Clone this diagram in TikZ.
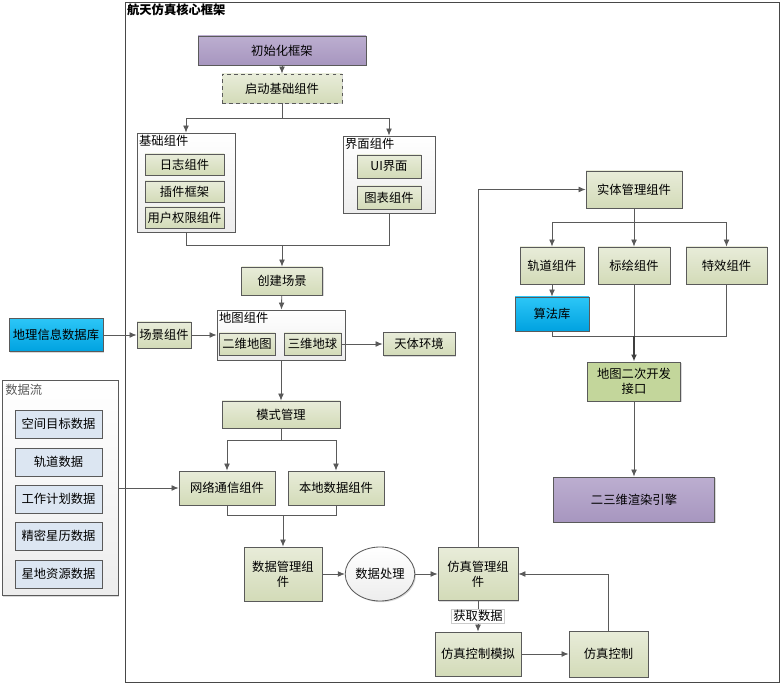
\documentclass[tikz,border=0pt]{standalone}
\usepackage{fontspec}
\setmainfont{Noto Sans CJK SC}
\usetikzlibrary{arrows.meta,shadows,shapes.geometric}

\definecolor{edge}{HTML}{5A5A5A}
\definecolor{gtop}{HTML}{E8ECD9}
\definecolor{gbot}{HTML}{D3DBB8}
\definecolor{ptop}{HTML}{BCAED0}
\definecolor{pbot}{HTML}{A796BF}
\definecolor{btop}{HTML}{2CC6F7}
\definecolor{bbot}{HTML}{00A2E0}
\definecolor{dgreen}{HTML}{C3D69B}
\definecolor{lblue}{HTML}{DCE6F2}
\definecolor{grpbot}{HTML}{EDEDED}

\tikzset{
	sz/.style 2 args={minimum width=#1*0.03cm, minimum height=#2*0.03cm},
	box/.style={draw=edge, line width=0.7pt, inner sep=1pt, align=center,
		drop shadow={shadow xshift=1pt, shadow yshift=-1pt, opacity=0.3}},
	gbox/.style={box, top color=gtop, bottom color=gbot},
	pbox/.style={box, top color=ptop, bottom color=pbot},
	bbox/.style={box, top color=btop, bottom color=bbot},
	dbox/.style={box, fill=lblue},
	grp/.style={box, top color=white, bottom color=grpbot},
	line/.style={draw=edge, line width=0.7pt},
	arr/.style={line, -{Latex[length=6pt, width=5pt]}},
	heavy/.style={line width=1.3pt, draw=edge!70!black},
	tag/.style={fill=white, draw=gray!40, line width=0.4pt, inner sep=1.5pt}
}

\begin{document}
\begin{tikzpicture}[x=0.03cm, y=-0.03cm, font=\fontsize{10.5}{12.5}\selectfont]
	\useasboundingbox (0,0) rectangle (784,685);

	% outer frame
	\node[draw=edge!80!black, line width=0.8pt, sz={654}{680},
		label={[anchor=north west, inner sep=2pt, font=\fontsize{10.5}{12}\selectfont\bfseries]north west:航天仿真核心框架}] (core) at (452,342) {};

	% start up
	\node[pbox, sz={168}{29}] (init) at (282,50.5) {初始化框架};
	\node[gbox, dashed, sz={120}{29}] (qidong) at (282,88.5) {启动基础组件};

	% base and ui components
	\node[grp, sz={98}{99}, label={[anchor=north west, inner sep=2pt]north west:基础组件}] (jichu) at (186,182.5) {};
	\node[gbox, sz={79}{21}] (rizhi) at (184.5,164.5) {日志组件};
	\node[gbox, sz={79}{21}] (chajian) at (184.5,191.5) {插件框架};
	\node[gbox, sz={79}{21}] (yonghu) at (184.5,217.5) {用户权限组件};

	\node[grp, sz={92}{77}, label={[anchor=north west, inner sep=2pt]north west:界面组件}] (jiemian) at (389,174.5) {};
	\node[gbox, sz={64}{23}] (ui) at (389,166.5) {UI界面};
	\node[gbox, sz={64}{23}] (tubiao) at (389,197.5) {图表组件};

	% scene
	\node[gbox, sz={81}{28}] (chuangjian) at (282,281) {创建场景};
	\node[grp, sz={128}{50}, label={[anchor=north west, inner sep=2pt]north west:地图组件}] (ditu) at (281,335) {};
	\node[gbox, sz={56}{22}] (erwei) at (247,344) {二维地图};
	\node[gbox, sz={57}{22}] (sanwei) at (312.5,344) {三维地球};
	\node[gbox, sz={72}{23}] (tianti) at (419,344) {天体环境};
	\node[bbox, sz={94}{33}] (dili) at (56,335) {地理信息数据库};
	\node[gbox, sz={54}{26}] (changjing) at (164,335) {场景组件};

	% data flow
	\node[grp, sz={116}{215}, label={[anchor=north west, inner sep=3pt, text=edge]north west:数据流}] (shujuliu) at (60,488) {};
	\node[dbox, sz={87}{28}] (kongjian) at (58.5,424) {空间目标数据};
	\node[dbox, sz={87}{28}] (guidaoshuju) at (58.5,462) {轨道数据};
	\node[dbox, sz={87}{28}] (jihua) at (58.5,499) {工作计划数据};
	\node[dbox, sz={87}{28}] (xingli) at (58.5,536) {精密星历数据};
	\node[dbox, sz={87}{28}] (ziyuan) at (58.5,574) {星地资源数据};

	% mode and data
	\node[gbox, sz={118}{27}] (moshi) at (281,414.5) {模式管理};
	\node[gbox, sz={96}{34}] (wangluo) at (227,488) {网络通信组件};
	\node[gbox, sz={96}{34}] (bendi) at (336,488) {本地数据组件};
	\node[gbox, sz={78}{54}] (shujuguanli) at (283,574) {数据管理组\\件};
	\node[ellipse, draw=edge, line width=0.7pt, top color=white, bottom color=grpbot,
		sz={68}{54}, inner sep=0pt,
		drop shadow={shadow xshift=1pt, shadow yshift=-1pt, opacity=0.3}] (chuli) at (380,574) {数据处理};
	\node[gbox, sz={80}{53}] (fangzhen) at (478,574) {仿真管理组\\件};
	\node[gbox, sz={86}{44}] (kongzhimoni) at (478,654) {仿真控制模拟};
	\node[gbox, sz={79}{46}] (kongzhi) at (608.5,654) {仿真控制};

	% entity side
	\node[gbox, sz={96}{37}] (shiti) at (634,189.5) {实体管理组件};
	\node[gbox, sz={64}{37}] (guidao) at (552,265.5) {轨道组件};
	\node[gbox, sz={72}{37}] (biaohui) at (634,265.5) {标绘组件};
	\node[gbox, sz={81}{37}] (texiao) at (726.5,265.5) {特效组件};
	\node[bbox, sz={74}{34}] (suanfa) at (552,314) {算法库};
	\node[box, fill=dgreen, sz={93}{39}] (erci) at (634,381.5) {地图二次开发\\接口};
	\node[pbox, sz={161}{45}] (xuanran) at (634,499.5) {二三维渲染引擎};

	% connectors
	\coordinate (s1) at (282,118);
	\coordinate (m1) at (282,245);
	\coordinate (s2) at (281,440);
	\coordinate (m2) at (283,515);
	\coordinate (s3) at (634,222);
	\coordinate (m3) at (634,336);

	\draw[arr] (init) -- (qidong);
	\draw[line] (qidong) -- (s1);
	\draw[arr] (s1) -| (jichu);
	\draw[arr] (s1) -| (jiemian);
	\draw[line] (jichu) |- (m1);
	\draw[line] (jiemian) |- (m1);
	\draw[arr] (m1) -- (chuangjian);
	\draw[arr] (chuangjian) -- (ditu);
	\draw[arr] (dili) -- (changjing);
	\draw[arr] (changjing) -- (ditu);
	\draw[arr] (sanwei) -- (tianti);
	\draw[arr] (ditu) -- (moshi);
	\draw[line] (moshi) -- (s2);
	\draw[arr] (s2) -| (wangluo);
	\draw[arr] (s2) -| (bendi);
	\draw[arr] (shujuliu) -- (wangluo);
	\draw[line] (wangluo) |- (m2);
	\draw[line] (bendi) |- (m2);
	\draw[arr] (m2) -- (shujuguanli);
	\draw[arr] (shujuguanli) -- (chuli);
	\draw[arr] (chuli) -- (fangzhen);
	\draw[arr] (fangzhen) |- (shiti);
	\draw[line] (shiti) -- (s3);
	\draw[arr] (s3) -| (guidao);
	\draw[arr] (s3) -- (biaohui);
	\draw[arr] (s3) -| (texiao);
	\draw[arr] (guidao) -- (suanfa);
	\draw[line] (suanfa) |- (m3);
	\draw[line] (texiao) |- (m3);
	\draw[line] (biaohui) -- (m3);
	\draw[arr, heavy] (m3) -- (erci);
	\draw[arr] (erci) -- (xuanran);
	\draw[arr] (fangzhen) -- node[tag] {获取数据} (kongzhimoni);
	\draw[arr] (kongzhimoni) -- (kongzhi);
	\draw[arr] (kongzhi) |- (fangzhen);
\end{tikzpicture}
\end{document}
